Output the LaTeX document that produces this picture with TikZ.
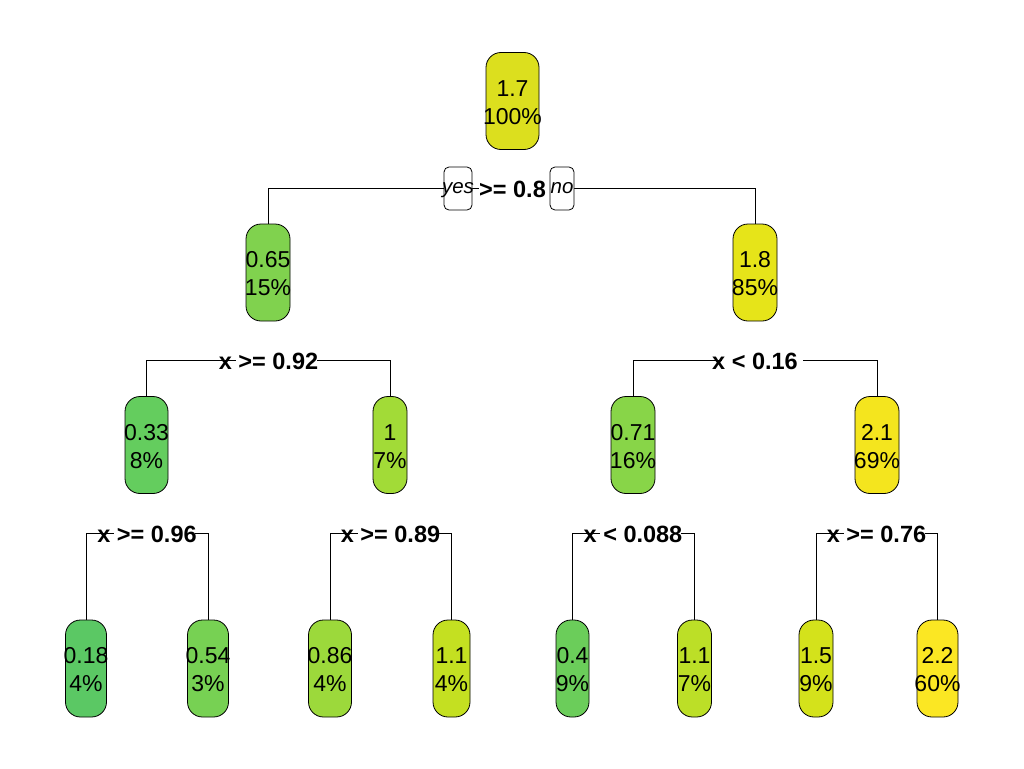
\documentclass[tikz,border=0pt]{standalone}
\usepackage{fontspec}
\setmainfont{Liberation Sans}
\definecolor{cA}{HTML}{DCDF1E}
\definecolor{cB}{HTML}{80D24E}
\definecolor{cC}{HTML}{E6E419}
\definecolor{cD}{HTML}{64CD5E}
\definecolor{cE}{HTML}{A2DB37}
\definecolor{cF}{HTML}{88D548}
\definecolor{cG}{HTML}{F4E51E}
\definecolor{cH}{HTML}{5BC864}
\definecolor{cI}{HTML}{77D153}
\definecolor{cJ}{HTML}{9CD93B}
\definecolor{cK}{HTML}{C4E021}
\definecolor{cL}{HTML}{6BCD5A}
\definecolor{cM}{HTML}{BCDF27}
\definecolor{cN}{HTML}{D4E21B}
\definecolor{cO}{HTML}{FBE723}
\newcommand\nd[2]{\raisebox{-9.8pt}[0pt][0pt]{\makebox[0pt]{\begin{tabular}{@{}c@{}}#1\\#2\end{tabular}}}}
\tikzset{
  nodebox/.style={draw=black, line width=0.8pt, rounded corners=15pt, minimum height=97pt, inner sep=0pt, font=\fontsize{23}{28.2}\selectfont},
  splitlab/.style={inner sep=0pt, font=\bfseries\fontsize{23.5}{27}\selectfont},
  ynbox/.style={draw=black, fill=white, line width=0.8pt, rounded corners=5pt, minimum height=43pt, inner sep=0pt, font=\itshape\fontsize{20.5}{24}\selectfont},
  conn/.style={line width=0.8pt}
}
\begin{document}
\begin{tikzpicture}[x=1pt,y=-1pt]
\useasboundingbox (0,0) rectangle (1024,768);
% nodes
\node[nodebox, fill=cA, minimum width=53pt] (n1) at (512.5,101) {\nd{1.7}{100\%}};
\node[nodebox, fill=cB, minimum width=44pt] (n2) at (268,272.5) {\nd{0.65}{15\%}};
\node[nodebox, fill=cC, minimum width=44pt] (n3) at (755,272.5) {\nd{1.8}{85\%}};
\node[nodebox, fill=cD, minimum width=43pt] (n4) at (146.5,445) {\nd{0.33}{8\%}};
\node[nodebox, fill=cE, minimum width=34pt] (n5) at (390,445) {\nd{1}{7\%}};
\node[nodebox, fill=cF, minimum width=44pt] (n6) at (633,445) {\nd{0.71}{16\%}};
\node[nodebox, fill=cG, minimum width=44pt] (n7) at (877,445) {\nd{2.1}{69\%}};
\node[nodebox, fill=cH, minimum width=41pt] (n8) at (86,668.5) {\nd{0.18}{4\%}};
\node[nodebox, fill=cI, minimum width=41pt] (n9) at (208,668.5) {\nd{0.54}{3\%}};
\node[nodebox, fill=cJ, minimum width=43pt] (n10) at (330,668.5) {\nd{0.86}{4\%}};
\node[nodebox, fill=cK, minimum width=37pt] (n11) at (451.5,668.5) {\nd{1.1}{4\%}};
\node[nodebox, fill=cL, minimum width=33pt] (n12) at (572.5,668.5) {\nd{0.4}{9\%}};
\node[nodebox, fill=cM, minimum width=34pt] (n13) at (694.5,668.5) {\nd{1.1}{7\%}};
\node[nodebox, fill=cN, minimum width=34pt] (n14) at (816,668.5) {\nd{1.5}{9\%}};
\node[nodebox, fill=cO, minimum width=41pt] (n15) at (937.5,668.5) {\nd{2.2}{60\%}};
% root split
\coordinate (g1a) at (479,188);
\coordinate (g1b) at (560,188);
\draw[conn] (n2.north) |- (g1a);
\draw[conn] (n3.north) |- (g1b);
\node[splitlab, anchor=west] (s1) at (479,189) {>= 0.8};
\node[ynbox, minimum width=28pt] (yes) at (458,188.5) {\raisebox{-5.3pt}[0pt][0pt]{\makebox[0pt]{yes}}};
\node[ynbox, minimum width=24pt] (no) at (562,188.5) {\raisebox{-5.3pt}[0pt][0pt]{\makebox[0pt]{no}}};
% level 2 splits
\coordinate (g2a) at (235.5,360);
\coordinate (g2b) at (316.5,360);
\draw[conn] (n4.north) |- (g2a);
\draw[conn] (n5.north) |- (g2b);
\node[splitlab] (s2) at (268.5,361) {x >= 0.92};
\coordinate (g3a) at (722,360);
\coordinate (g3b) at (803,360);
\draw[conn] (n6.north) |- (g3a);
\draw[conn] (n7.north) |- (g3b);
\node[splitlab] (s3) at (755,361) {x < 0.16};
% level 3 splits
\coordinate (g4a) at (114,533);
\coordinate (g4b) at (195,533);
\draw[conn] (n8.north) |- (g4a);
\draw[conn] (n9.north) |- (g4b);
\node[splitlab] (s4) at (147,534) {x >= 0.96};
\coordinate (g5a) at (357.5,533);
\coordinate (g5b) at (438.5,533);
\draw[conn] (n10.north) |- (g5a);
\draw[conn] (n11.north) |- (g5b);
\node[splitlab] (s5) at (390.5,534) {x >= 0.89};
\coordinate (g6a) at (600,533);
\coordinate (g6b) at (681,533);
\draw[conn] (n12.north) |- (g6a);
\draw[conn] (n13.north) |- (g6b);
\node[splitlab] (s6) at (633,534) {x < 0.088};
\coordinate (g7a) at (843.5,533);
\coordinate (g7b) at (924.5,533);
\draw[conn] (n14.north) |- (g7a);
\draw[conn] (n15.north) |- (g7b);
\node[splitlab] (s7) at (876.5,534) {x >= 0.76};
\end{tikzpicture}
\end{document}
